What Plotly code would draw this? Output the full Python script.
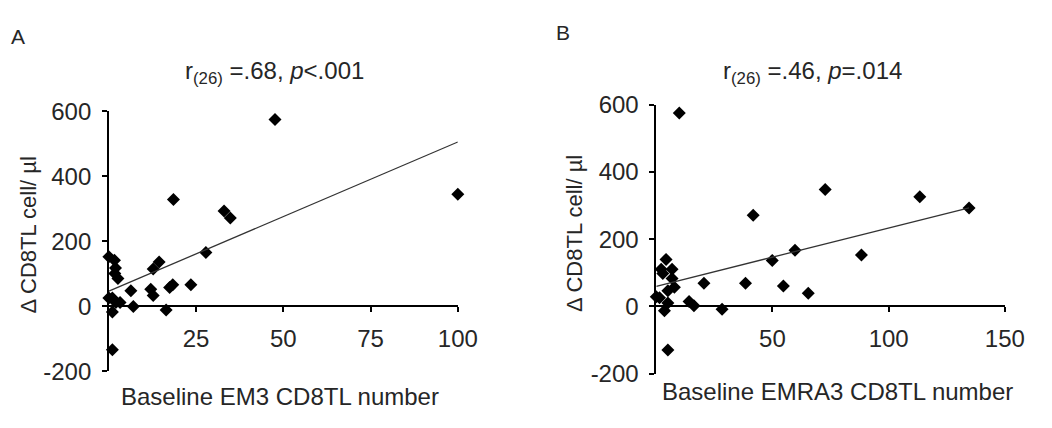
import plotly.graph_objects as go

# ---------------- data ----------------
em3_x = [100, 47.6, 18.5, 33, 34.8, 27.8, 14.4, 12.7, 23.5, 18.3, 17.4, 12, 12.7, 6.3, 7,
         16.4, 0, 1.6, 1.9, 1.7, 2.6, 0, 1, 2, 3.2, 1, 1]
em3_delta = [345, 575, 329, 294, 272, 166, 137, 115, 67, 67, 58, 53, 34, 48, 0,
             -11, 153, 142, 118, 101, 86, 26, 26, 12, 12, -17, -133]
em3_trend_x = [0, 100]
em3_trend_y = [47, 506]

emra3_x = [9.9, 134.6, 113.4, 72.7, 41.7, 59.7, 88.3, 49.9, 20.5, 38.4, 54.7, 65.4, 28.3, 14.1,
           16.2, 5, 4.2, 2.1, 2.8, 6.8, 6.8, 7.8, 5, 0, 1.4, 5, 3.5]
emra3_delta = [575, 293, 326, 348, 271, 167, 153, 137, 69, 69, 61, 39, -8, 15,
               2, -129, 140, 111, 98, 111, 83, 57, 47, 29, 26, 10, -13]
emra3_trend_x = [0, 134.6]
emra3_trend_y = [60, 293]

y_ticks = [-200, 0, 200, 400, 600]
y_tick_labels = ["-200", "0", "200", "400", "600"]
xa_ticks = [25, 50, 75, 100]
xb_ticks = [50, 100, 150]

title_a = "r<sub>(26)</sub> =.68, <i>p</i>&lt;.001"
title_b = "r<sub>(26)</sub> =.46, <i>p</i>=.014"
xlabel_a = "Baseline EM3 CD8TL number"
xlabel_b = "Baseline EMRA3 CD8TL number"
ylabel = "Δ CD8TL cell/ µl"

# ---------------- layout helpers ----------------
W, H = 1052, 428
def fx(px):
    return px / W
def fy(py):
    return 1 - py / H

FONT = "Arial, Liberation Sans, sans-serif"
TXT = "#262626"

fig = go.Figure()
mk = dict(symbol="diamond", size=10, color="black")
fig.add_trace(go.Scatter(x=em3_x, y=em3_delta, mode="markers", marker=mk,
                         cliponaxis=False, xaxis="x", yaxis="y", showlegend=False))
fig.add_trace(go.Scatter(x=em3_trend_x, y=em3_trend_y, mode="lines",
                         line=dict(color="#333333", width=1.3),
                         cliponaxis=False, xaxis="x", yaxis="y", showlegend=False))
fig.add_trace(go.Scatter(x=emra3_x, y=emra3_delta, mode="markers", marker=mk,
                         cliponaxis=False, xaxis="x2", yaxis="y2", showlegend=False))
fig.add_trace(go.Scatter(x=emra3_trend_x, y=emra3_trend_y, mode="lines",
                         line=dict(color="#333333", width=1.3),
                         cliponaxis=False, xaxis="x2", yaxis="y2", showlegend=False))

# panel geometry (pixels)
A_x0, A_x1, A_ytop, A_ybot = 111, 466.7, 104, 381.5
B_x0, B_x1, B_ytop, B_ybot = 669, 1024.3, 96.7, 384

def zero_pos(ytop, ybot):
    # paper fraction of value 0 on a [-200, 600] axis
    b, t = fy(ybot), fy(ytop)
    return b + (200 / 800) * (t - b)

axis_common = dict(showline=True, linecolor="black", linewidth=1.6, ticks="outside",
                   ticklen=5, tickwidth=1.6, tickcolor="black", showgrid=False,
                   zeroline=False, tickfont=dict(family=FONT, size=24, color=TXT))

fig.update_layout(
    width=W, height=H, margin=dict(l=0, r=0, t=0, b=0),
    paper_bgcolor="white", plot_bgcolor="white",
    xaxis=dict(domain=[fx(A_x0), fx(A_x1)], range=[0, 100], tickvals=xa_ticks,
               anchor="free", position=zero_pos(A_ytop, A_ybot), ticklabelstandoff=6,
               **axis_common),
    yaxis=dict(domain=[fy(A_ybot), fy(A_ytop)], range=[-200, 600], tickvals=y_ticks,
               ticktext=y_tick_labels, anchor="x", ticklabelstandoff=6, **axis_common),
    xaxis2=dict(domain=[fx(B_x0), fx(B_x1)], range=[0, 150], tickvals=xb_ticks,
                anchor="free", position=zero_pos(B_ytop, B_ybot), ticklabelstandoff=6,
                **axis_common),
    yaxis2=dict(domain=[fy(B_ybot), fy(B_ytop)], range=[-200, 600], tickvals=y_ticks,
                ticktext=y_tick_labels, anchor="x2", ticklabelstandoff=6, **axis_common),
)

def ann(text, px, py, size=24, angle=0):
    fig.add_annotation(text=text, x=fx(px), y=fy(py), xref="paper", yref="paper",
                       showarrow=False, xanchor="center", yanchor="middle",
                       textangle=angle, font=dict(family=FONT, size=size, color=TXT))

ann("A", 18, 24, size=21)
ann("B", 574, 20, size=21)
ann(title_a, 280, 62)
ann(title_b, 828, 62)
ann(xlabel_a, 285, 408)
ann(xlabel_b, 854, 403)
ann(ylabel, 29, 236, size=22, angle=-90)
ann(ylabel, 585, 234, size=22, angle=-90)

fig.write_html("out.html")
